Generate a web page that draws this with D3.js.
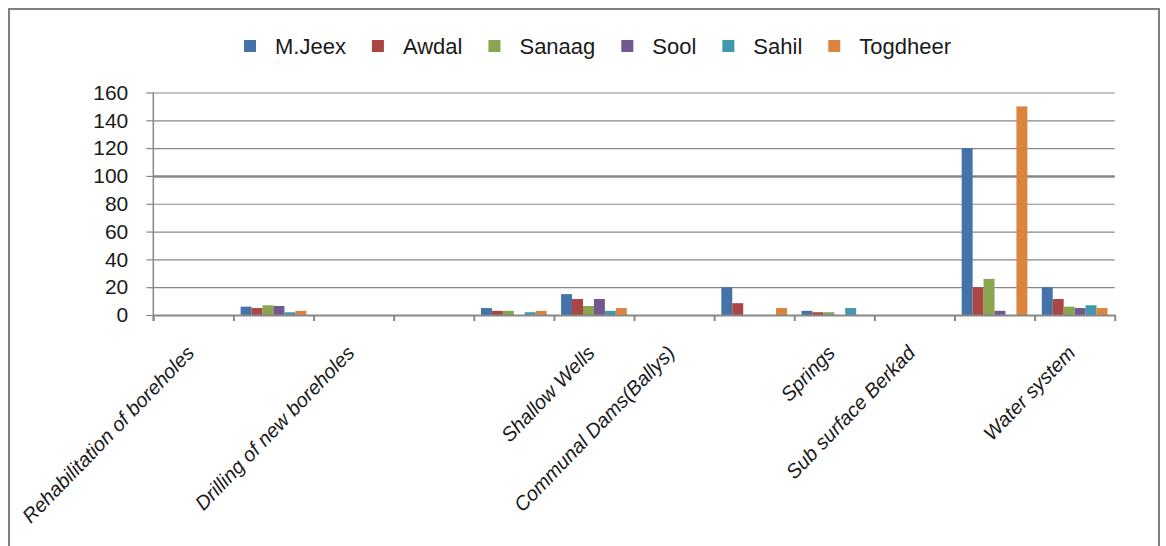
<!DOCTYPE html>
<html>
<head>
<meta charset="utf-8">
<script src="https://cdn.jsdelivr.net/npm/d3@7"></script>
<style>
  html, body { margin: 0; padding: 0; background: #fff; }
  svg { display: block; }
</style>
</head>
<body>
<svg id="chart" width="1166" height="546"></svg>
<script>
// ---------------- DATA ----------------
const categories = [
  "Rehabilitation of boreholes", "", "Drilling of new boreholes", "", "",
  "Shallow Wells", "Communal Dams(Ballys)", "", "Springs", "Sub surface Berkad", "", "Water system"
];
const seriesNames = ["M.Jeex", "Awdal", "Sanaag", "Sool", "Sahil", "Togdheer"];
const mJeex    = [0, 6,   0, 0, 5, 15,   0, 20,  3, 0, 120, 20];
const awdal    = [0, 5,   0, 0, 3, 11.5, 0, 8.5, 2, 0, 20,  11.5];
const sanaag   = [0, 7,   0, 0, 3, 6.5,  0, 0,   2, 0, 26,  6];
const sool     = [0, 6.5, 0, 0, 0, 11.5, 0, 0,   0, 0, 3,   5];
const sahil    = [0, 2,   0, 0, 2, 3,    0, 0,   5, 0, 0,   7];
const togdheer = [0, 3,   0, 0, 3, 5,    0, 5,   0, 0, 150, 5];
const yTicks = [0, 20, 40, 60, 80, 100, 120, 140, 160];
const colors = ["#4572A7", "#AA4643", "#89A54E", "#71588F", "#4198AF", "#DB843D"];

const seriesValues = [mJeex, awdal, sanaag, sool, sahil, togdheer];

// ---------------- LAYOUT ----------------
(function () {
const svg = d3.select("#chart");
const pL = 153.3, pR = 1114.7, pT = 92.5, pB = 315;
const font = "'Liberation Sans', Arial, sans-serif";

// chart border
svg.append("rect")
  .attr("x", 9).attr("y", 9).attr("width", 1150).attr("height", 560)
  .attr("fill", "none").attr("stroke", "#7f7f7f").attr("stroke-width", 2);

const x0 = d3.scaleBand().domain(d3.range(categories.length)).range([pL, pR]).padding(0);
const step = x0.step();
const x1 = d3.scaleBand().domain(seriesNames).range([step * 0.09, step * 0.91]).padding(0);
const y = d3.scaleLinear().domain([0, 160]).range([pB, pT]);
const xl = d3.scaleLinear().domain([0, categories.length]).range([pL, pR]);

// gridlines
const grid = svg.append("g").attr("transform", `translate(${pL},0)`)
  .call(d3.axisLeft(y).tickValues(yTicks.filter(d => d > 0)).tickSize(-(pR - pL)).tickFormat(""));
grid.select(".domain").remove();
grid.selectAll(".tick line").attr("stroke", "#878787")
  .attr("stroke-width", d => d === 100 ? 2.6 : 1.2);

// bars
const groups = svg.append("g").selectAll("g")
  .data(categories.map((c, i) => i))
  .join("g")
  .attr("transform", i => `translate(${x0(i)},0)`);
groups.selectAll("rect")
  .data(i => seriesNames.map((s, k) => ({ s, v: seriesValues[k][i], k })))
  .join("rect")
  .attr("x", d => x1(d.s))
  .attr("width", x1.bandwidth())
  .attr("y", d => y(d.v))
  .attr("height", d => y(0) - y(d.v))
  .attr("fill", d => colors[d.k]);

// y axis
const yAxis = svg.append("g").attr("transform", `translate(${pL},0)`)
  .call(d3.axisLeft(y).tickValues(yTicks).tickSize(7).tickPadding(18).tickSizeOuter(0));
yAxis.select(".domain").attr("stroke", "#878787").attr("stroke-width", 1.5)
  .attr("d", `M0,${pT}V${pB + 6}`);
yAxis.selectAll(".tick line").attr("stroke", "#878787").attr("stroke-width", 1.2);
yAxis.selectAll(".tick text").attr("font-family", font).attr("font-size", 21)
  .attr("fill", "#1a1a1a");

// x axis
const xAxis = svg.append("g").attr("transform", `translate(0,${pB})`)
  .call(d3.axisBottom(xl).tickValues(d3.range(categories.length + 1)).tickSize(6).tickFormat("").tickSizeOuter(0));
xAxis.select(".domain").attr("stroke", "#878787").attr("stroke-width", 1.8);
xAxis.selectAll(".tick line").attr("stroke", "#878787").attr("stroke-width", 2);

// category labels
svg.append("g").selectAll("text")
  .data(categories.map((c, i) => ({ c, i })).filter(d => d.c))
  .join("text")
  .attr("transform", d => `translate(${x0(d.i) + step / 2 + 2},354) rotate(-46)`)
  .attr("text-anchor", "end")
  .attr("font-family", font)
  .attr("font-style", "italic")
  .attr("font-size", 20)
  .attr("fill", "#1a1a1a")
  .text(d => d.c);

// legend
const legend = svg.append("g").attr("transform", "translate(244,46)");
let lx = 0;
seriesNames.forEach((s, k) => {
  const g = legend.append("g").attr("transform", `translate(${lx},0)`);
  g.append("rect").attr("x", 0).attr("y", -6).attr("width", 12).attr("height", 12).attr("fill", colors[k]);
  const t = g.append("text").attr("x", 31).attr("y", 0).attr("dy", "0.36em")
    .attr("font-family", font).attr("font-size", 22).attr("fill", "#1a1a1a").text(s);
  lx += 31 + t.node().getComputedTextLength() + 26;
});
})();
</script>
</body>
</html>
